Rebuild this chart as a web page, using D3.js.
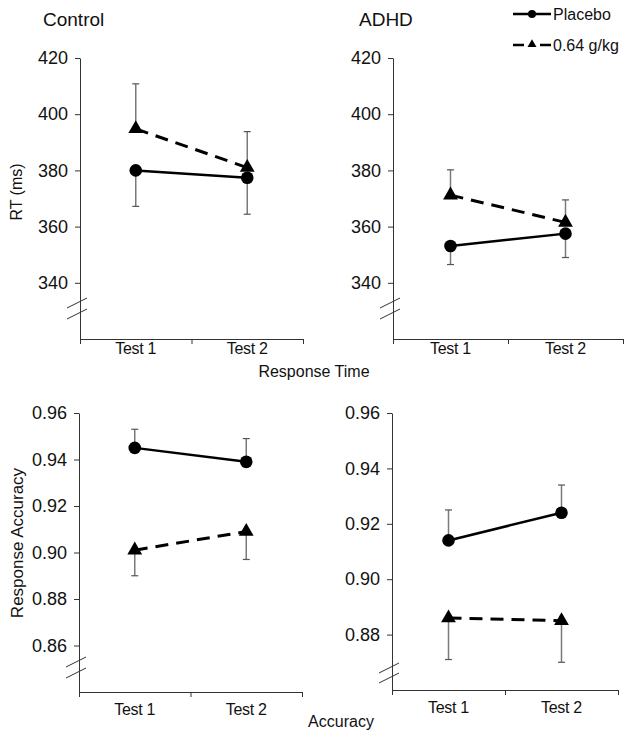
<!DOCTYPE html>
<html>
<head>
<meta charset="utf-8">
<script src="https://cdn.jsdelivr.net/npm/d3@7"></script>
<style>
  html, body { margin: 0; padding: 0; background: #fff; }
  svg { display: block; }
  text { font-family: "Liberation Sans", Arial, sans-serif; fill: #111; }
</style>
</head>
<body>
<svg id="chart" width="631" height="739"></svg>
<script>
// ---------- data ----------
const categories = ["Test 1", "Test 2"];
const seriesNames = ["Placebo", "0.64 g/kg"];
const groupTitles = ["Control", "ADHD"];

// Response time (ms): means and SEM
const rtControlPlacebo = [380.0, 377.4];
const rtControlPlaceboSE = [12.8, 13.0];
const rtControlAlcohol = [394.8, 381.0];
const rtControlAlcoholSE = [16.0, 12.8];
const rtAdhdPlacebo = [353.1, 357.5];
const rtAdhdPlaceboSE = [6.6, 8.5];
const rtAdhdAlcohol = [371.2, 361.5];
const rtAdhdAlcoholSE = [9.0, 8.0];

// Response accuracy: means and SEM
const accControlPlacebo = [0.945, 0.939];
const accControlPlaceboSE = [0.008, 0.010];
const accControlAlcohol = [0.901, 0.909];
const accControlAlcoholSE = [0.011, 0.012];
const accAdhdPlacebo = [0.914, 0.924];
const accAdhdPlaceboSE = [0.011, 0.010];
const accAdhdAlcohol = [0.886, 0.885];
const accAdhdAlcoholSE = [0.015, 0.015];

const rtTicks = [340, 360, 380, 400, 420];
const accControlTicks = [0.86, 0.88, 0.90, 0.92, 0.94, 0.96];
const accAdhdTicks = [0.88, 0.90, 0.92, 0.94, 0.96];

// ---------- drawing ----------
const svg = d3.select("#chart");

const panels = [
  { x0: 80, x1: 303, yTop: 58, yBot: 339, domain: [320, 420], ticks: rtTicks, fmt: d3.format("d"),
    placebo: rtControlPlacebo, placeboSE: rtControlPlaceboSE, alc: rtControlAlcohol, alcSE: rtControlAlcoholSE,
    placeboDir: -1, alcDir: 1, labelY: 354, breakOff: [36, 25] },
  { x0: 393, x1: 623, yTop: 58, yBot: 339, domain: [320, 420], ticks: rtTicks, fmt: d3.format("d"),
    placebo: rtAdhdPlacebo, placeboSE: rtAdhdPlaceboSE, alc: rtAdhdAlcohol, alcSE: rtAdhdAlcoholSE,
    placeboDir: -1, alcDir: 1, labelY: 354, breakOff: [36, 25] },
  { x0: 79, x1: 302, yTop: 413, yBot: 692, domain: [0.84, 0.96], ticks: accControlTicks, fmt: d3.format(".2f"),
    placebo: accControlPlacebo, placeboSE: accControlPlaceboSE, alc: accControlAlcohol, alcSE: accControlAlcoholSE,
    placeboDir: 1, alcDir: -1, labelY: 715, breakOff: [30, 19] },
  { x0: 392, x1: 618, yTop: 413, yBot: 690, domain: [0.86, 0.96], ticks: accAdhdTicks, fmt: d3.format(".2f"),
    placebo: accAdhdPlacebo, placeboSE: accAdhdPlaceboSE, alc: accAdhdAlcohol, alcSE: accAdhdAlcoholSE,
    placeboDir: 1, alcDir: -1, labelY: 713, breakOff: [22, 12] }
];

panels.forEach(p => {
  const g = svg.append("g");
  const x = d3.scalePoint().domain(categories).range([p.x0, p.x1]).padding(0.5);
  const xEdge = d3.scaleLinear().domain([0, 2]).range([p.x0, p.x1]);
  const y = d3.scaleLinear().domain(p.domain).range([p.yBot, p.yTop]);

  // y axis
  const ya = g.append("g").attr("transform", `translate(${p.x0},0)`)
    .call(d3.axisLeft(y).tickValues(p.ticks).tickFormat(p.fmt).tickSizeInner(5).tickSizeOuter(0).tickPadding(7));
  ya.select(".domain").attr("stroke", "#333");
  ya.selectAll(".tick line").attr("stroke", "#333");
  ya.selectAll(".tick text").attr("font-size", 18).attr("font-family", "Liberation Sans, Arial, sans-serif").attr("fill", "#111");

  // x axis
  const xa = g.append("g").attr("transform", `translate(0,${p.yBot})`)
    .call(d3.axisBottom(xEdge).tickValues([0, 1, 2]).tickFormat("").tickSizeInner(5).tickSizeOuter(0));
  xa.select(".domain").attr("stroke", "#333");
  xa.selectAll(".tick line").attr("stroke", "#333");

  g.selectAll(".xlab").data(categories).join("text")
    .attr("x", d => x(d)).attr("y", p.labelY)
    .attr("text-anchor", "middle").attr("font-size", 16).attr("letter-spacing", -0.3).text(d => d);

  // axis break slashes
  p.breakOff.forEach(off => {
    const yy = p.yBot - off;
    g.append("line").attr("x1", p.x0 - 13).attr("y1", yy + 5).attr("x2", p.x0 + 7).attr("y2", yy - 5)
      .attr("stroke", "#333").attr("stroke-width", 1);
  });

  const series = [
    { vals: p.placebo, se: p.placeboSE, dir: p.placeboDir, dash: null, sym: "circle" },
    { vals: p.alc, se: p.alcSE, dir: p.alcDir, dash: "13,8", sym: "triangle" }
  ];

  // error bars
  series.forEach(s => {
    s.vals.forEach((v, i) => {
      const cx = x(categories[i]);
      const ye = y(v + s.dir * s.se[i]);
      g.append("line").attr("x1", cx).attr("x2", cx).attr("y1", y(v)).attr("y2", ye)
        .attr("stroke", "#7a7a7a").attr("stroke-width", 1.5);
      g.append("line").attr("x1", cx - 3.5).attr("x2", cx + 3.5).attr("y1", ye).attr("y2", ye)
        .attr("stroke", "#555").attr("stroke-width", 1.2);
    });
  });

  // lines
  const line = d3.line().x((d, i) => x(categories[i])).y(d => y(d));
  series.forEach(s => {
    g.append("path").datum(s.vals).attr("d", line)
      .attr("fill", "none").attr("stroke", "#000").attr("stroke-width", s.dash ? 3 : 2.5)
      .attr("stroke-dasharray", s.dash);
  });

  // markers
  series.forEach(s => {
    s.vals.forEach((v, i) => {
      const cx = x(categories[i]);
      if (s.sym === "circle") {
        g.append("circle").attr("cx", cx).attr("cy", y(v)).attr("r", 6.3).attr("fill", "#000");
      } else {
        g.append("path").attr("d", d3.symbol().type(d3.symbolTriangle).size(95)())
          .attr("transform", `translate(${cx},${y(v)})`).attr("fill", "#000");
      }
    });
  });
});

// group titles
svg.append("text").attr("x", 43).attr("y", 26).attr("font-size", 19).text(groupTitles[0]);
svg.append("text").attr("x", 359).attr("y", 26).attr("font-size", 19).text(groupTitles[1]);

// axis titles
svg.append("text").attr("transform", "translate(22,192) rotate(-90)").attr("text-anchor", "middle")
  .attr("font-size", 16).text("RT (ms)");
svg.append("text").attr("transform", "translate(23,543) rotate(-90)").attr("text-anchor", "middle")
  .attr("font-size", 17).text("Response Accuracy");
svg.append("text").attr("x", 314).attr("y", 377).attr("text-anchor", "middle").attr("font-size", 16).text("Response Time");
svg.append("text").attr("x", 341).attr("y", 727).attr("text-anchor", "middle").attr("font-size", 16).text("Accuracy");

// legend
const leg = svg.append("g");
const legRows = [{ y: 14, dash: null, sym: "circle" }, { y: 45, dash: "11,16", sym: "triangle" }];
legRows.forEach((r, i) => {
  leg.append("line").attr("x1", 513).attr("x2", 551).attr("y1", r.y).attr("y2", r.y)
    .attr("stroke", "#000").attr("stroke-width", 2.5).attr("stroke-dasharray", r.dash);
  if (r.sym === "circle") {
    leg.append("circle").attr("cx", 532).attr("cy", r.y).attr("r", 4).attr("fill", "#000");
  } else {
    leg.append("path").attr("d", d3.symbol().type(d3.symbolTriangle).size(35)())
      .attr("transform", `translate(532,${r.y - 0.5})`).attr("fill", "#000");
  }
  leg.append("text").attr("x", 553).attr("y", r.y + 5.5).attr("font-size", 16).text(seriesNames[i]);
});
</script>
</body>
</html>
